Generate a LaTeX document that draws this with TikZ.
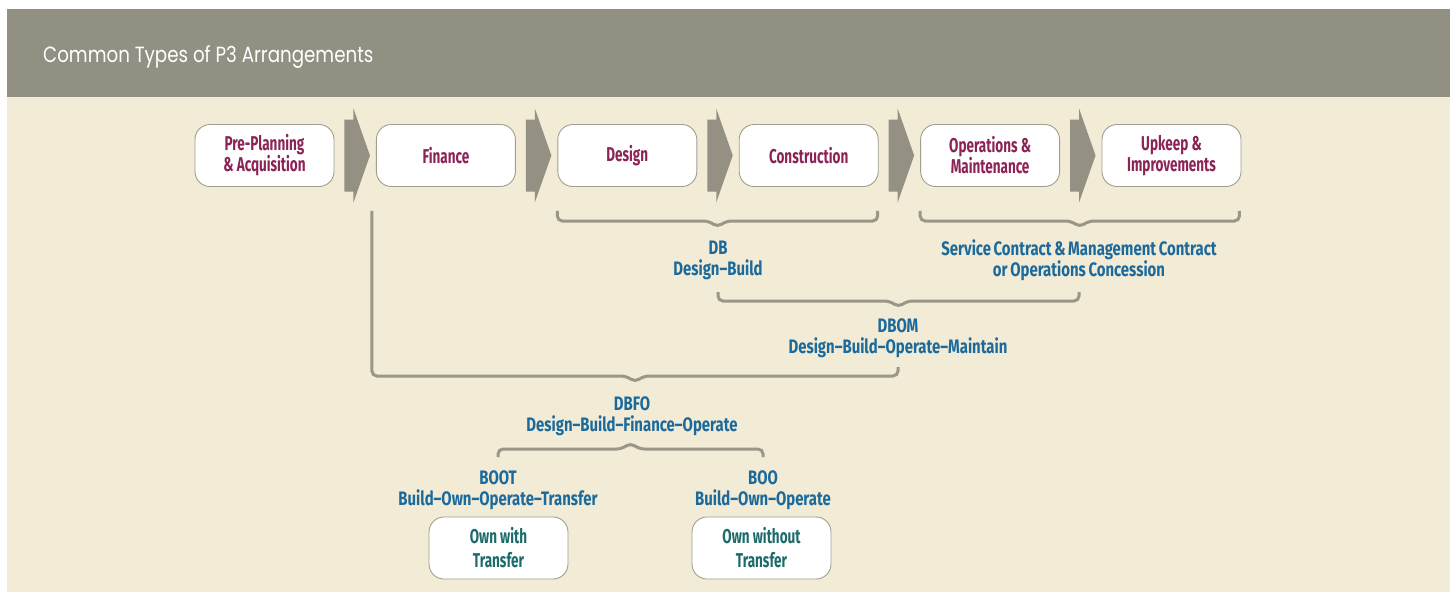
\documentclass[tikz,border=0pt]{standalone}
\usepackage{fontspec}
\usetikzlibrary{calc}
\newfontfamily\condfont[FakeStretch=0.675]{Fira Sans}
\newfontfamily\tagfont[FakeStretch=0.765, WordSpace=0.75]{Fira Sans}
\newfontfamily\titlefont[FakeStretch=0.83]{Poppins}
\definecolor{headgray}{HTML}{929083}
\definecolor{paper}{HTML}{F2EBD5}
\definecolor{chevgray}{HTML}{949184}
\definecolor{bracegray}{HTML}{9A9788}
\definecolor{boxline}{HTML}{A19E8F}
\definecolor{plum}{HTML}{8B2356}
\definecolor{steel}{HTML}{1C6A9C}
\definecolor{deepteal}{HTML}{1D6A6A}
\tikzset{
  stage/.style={draw=boxline, line width=0.9pt, fill=white, rounded corners=15pt,
    minimum width=139pt, minimum height=62pt, inner sep=0pt, align=center,
    text=plum, font=\condfont\bfseries\fontsize{20}{21}\selectfont},
  own/.style={stage, text=deepteal, font=\condfont\bfseries\fontsize{20}{24}\selectfont},
  tag/.style={anchor=base, align=center, text=steel, inner sep=0pt,
    font=\tagfont\bfseries\fontsize{19.5}{21}\selectfont},
  brk/.style={draw=bracegray, line width=3pt, rounded corners=5pt},
  chev/.style={fill=chevgray}
}
% #1,#2 ends, #3 bar, #4 bump
\newcommand\bracedn[4]{\draw[brk] let \p1=(#1), \p2=(#2) in
  (\p1) -- (\x1,#3) -- ({(\x1+\x2)/2-9pt},#3) -- ({(\x1+\x2)/2},#3+#4)
  -- ({(\x1+\x2)/2+9pt},#3) -- (\x2,#3) -- (\p2);}
\begin{document}
\begin{tikzpicture}[x=1pt,y=-1pt]
  \useasboundingbox (0,0) rectangle (1450,592);
  \fill[headgray] (7,9) rectangle (1450,97);
  \fill[paper] (7,97) rectangle (1450,592);
  \node[anchor=base west, inner sep=0pt, text=white, font=\titlefont\fontsize{22}{24}\selectfont]
    (title) at (43,62) {Common Types of P3 Arrangements};

  \foreach \n/\t [count=\i from 0] in {pre/{Pre-Planning\\\& Acquisition}, fin/Finance,
      des/Design, con/Construction, om/{Operations \&\\Maintenance}, up/{Upkeep \&\\Improvements}}{
    \node[stage] (\n) at (264.5+181.4*\i,155.5) {\t};
  }
  \foreach \a/\b in {pre/fin,fin/des,des/con,con/om,om/up}{
    \fill[chev] ($(\a.east)+(10,-36)$) -- ($(\a.east)+(19,-36)$) -- ($(\a.east)+(19,-47)$)
      -- ($(\b.west)+(-6,0)$) -- ($(\a.east)+(19,47)$) -- ($(\a.east)+(19,36)$)
      -- ($(\a.east)+(10,36)$) -- cycle;
  }

  \node[tag] (db) at (718,275) {DB\\Design–Build};
  \node[tag] (svc) at (1079,276) {Service Contract \& Management Contract\\or Operations Concession};
  \node[tag] (dbom) at (898,353) {DBOM\\Design–Build–Operate–Maintain};
  \node[tag] (dbfo) at (632,431) {DBFO\\Design–Build–Finance–Operate};
  \node[tag] (boot) at (498,505) {BOOT\\Build–Own–Operate–Transfer};
  \node[tag] (boo) at (763,505) {BOO\\Build–Own–Operate};
  \node[own] (with) at (498.5,548) {Own with\\Transfer};
  \node[own] (without) at (761.5,548) {Own without\\Transfer};

  \bracedn{$(des.south west)+(0,24)$}{$(con.south east)+(-1,24)$}{221}{6}
  \bracedn{$(om.south west)+(0,24)$}{$(up.south east)+(-2,24)$}{221}{6}
  \bracedn{db |- 0,292}{svc |- 0,292}{301}{6}
  \bracedn{$(fin.south west)+(-4,24)$}{dbom |- 0,367}{376}{6}
  \bracedn{boot |- 0,457}{boo |- 0,457}{449}{-6}
\end{tikzpicture}
\end{document}
